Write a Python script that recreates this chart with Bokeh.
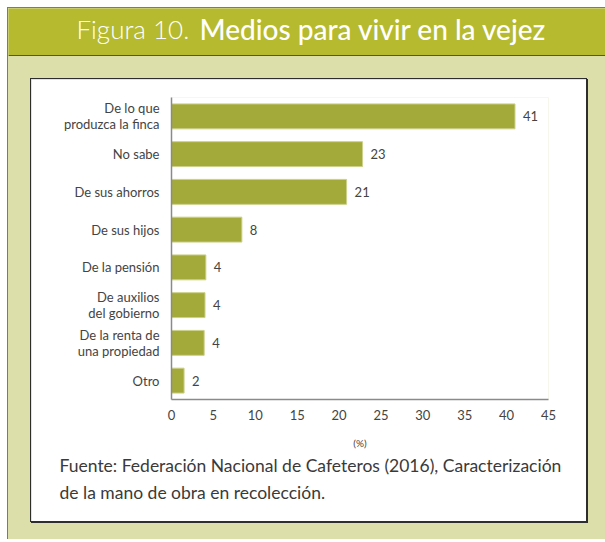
from bokeh.plotting import figure
from bokeh.models import FixedTicker, Range1d, FactorRange, ColumnDataSource, Title
from bokeh.layouts import column, gridplot
from bokeh.embed import file_html
from bokeh.resources import INLINE
from bokeh.core.properties import value

# ---- data ----
categories = [
    "De lo que\nproduzca la finca",
    "No sabe",
    "De sus ahorros",
    "De sus hijos",
    "De la pensión",
    "De auxilios\ndel gobierno",
    "De la renta de\nuna propiedad",
    "Otro",
]
percentages = [41.0, 22.8, 20.9, 8.4, 4.1, 4.0, 3.9, 1.5]
value_labels = ["41", "23", "21", "8", "4", "4", "4", "2"]
x_ticks = [0, 5, 10, 15, 20, 25, 30, 35, 40, 45]
title_prefix = ["Figura 10."]
title_main = ["Medios para vivir en la vejez"]
x_axis_label = "(%)"
source_lines = [
    "Fuente: Federación Nacional de Cafeteros (2016), Caracterización",
    "de la mano de obra en recolección.",
]

# ---- style ----
FONT = "Lato"
BAR = "#A4AA3A"
TITLE_BG = "#B5BA2E"
PAGE_BG = "#DCDFA9"
TXT = "#3a3a3a"

# ---- title bar ----
TW, TH = 597, 48
tf = figure(width=TW, height=TH, x_range=Range1d(0, TW), y_range=Range1d(TH, 0),
            x_axis_type=None, y_axis_type=None, output_backend="svg", toolbar_location=None,
            min_border=0)
tf.title = None
tf.outline_line_color = None
tf.xgrid.visible = False
tf.ygrid.visible = False
tf.background_fill_color = TITLE_BG
tf.border_fill_color = TITLE_BG
tf.segment(x0=[0], y0=[47.2], x1=[TW], y1=[47.2], line_color="#56562f", line_width=1.6)
tf.text(x=[68], y=[20.5], text=title_prefix, text_font=value("Lato Light"), text_font_size="26px",
        text_color="white", text_baseline="alphabetic")
tf.text(x=[191], y=[20.5], text=title_main, text_font=value("'Lato Medium', 'Lato Semibold', Lato"),
        text_font_size="28px", text_color="white", text_baseline="alphabetic")
title_block = gridplot([[tf]], toolbar_location=None)

# ---- main chart ----
src = ColumnDataSource(dict(cat=categories, val=percentages, lbl=value_labels))
MW, MH = 557, 444
p = figure(
    width=MW, height=MH,
    y_range=FactorRange(*list(reversed(categories)), range_padding=0),
    x_range=Range1d(0, 45),
    output_backend="svg", toolbar_location=None,
    min_border_left=140, min_border_right=40, min_border_top=18, min_border_bottom=124,
)
p.outline_line_color = None
p.border_fill_color = "white"
p.background_fill_color = "white"
p.xgrid.visible = False
p.ygrid.visible = False
p.margin = (22, 16, 17, 22)
p.styles = {"border": "1px solid #2e2e2e", "box-shadow": "1px 1px 0 #2e2e2e"}

p.hbar(y="cat", right="val", left=0, height=0.66, source=src,
       fill_color=BAR, line_color="#CBD08A", line_width=1)
p.text(x="val", y="cat", text="lbl", source=src, x_offset=8, text_baseline="middle",
       text_font=value(FONT), text_font_size="13px", text_color="#444444")

p.xaxis.ticker = FixedTicker(ticks=x_ticks)
p.xaxis.axis_label = x_axis_label
for ax in (p.xaxis[0], p.yaxis[0]):
    ax.axis_line_color = "#8a8a8a"
    ax.axis_line_width = 1.5
    ax.major_tick_line_color = None
    ax.minor_tick_line_color = None
    ax.major_tick_out = 0
    ax.major_tick_in = 0
    ax.major_label_text_font = FONT
    ax.major_label_text_font_size = "13px"
    ax.major_label_text_color = "#444444"
p.xaxis.major_label_standoff = 10
p.xaxis.axis_label_standoff = 14
p.xaxis.axis_label_text_font = FONT
p.xaxis.axis_label_text_font_size = "10px"
p.xaxis.axis_label_text_font_style = "normal"
p.xaxis.axis_label_text_color = "#444444"
p.yaxis.major_label_standoff = 12
p.yaxis.major_label_text_line_height = 1.0

for i, line in enumerate(source_lines):
    p.add_layout(Title(text=line, align="left", offset=-112, text_font=FONT,
                       text_font_size="17.5px", text_font_style="normal", text_color=TXT,
                       standoff=3 if i == 0 else 5), "below")

layout = column(title_block, p, margin=(7, 0, 0, 7),
                styles={"background-color": PAGE_BG, "border-left": "1px solid #7a7a7a",
                        "border-top": "1px solid #7a7a7a"})

open("out.html", "w").write(file_html(layout, INLINE))
